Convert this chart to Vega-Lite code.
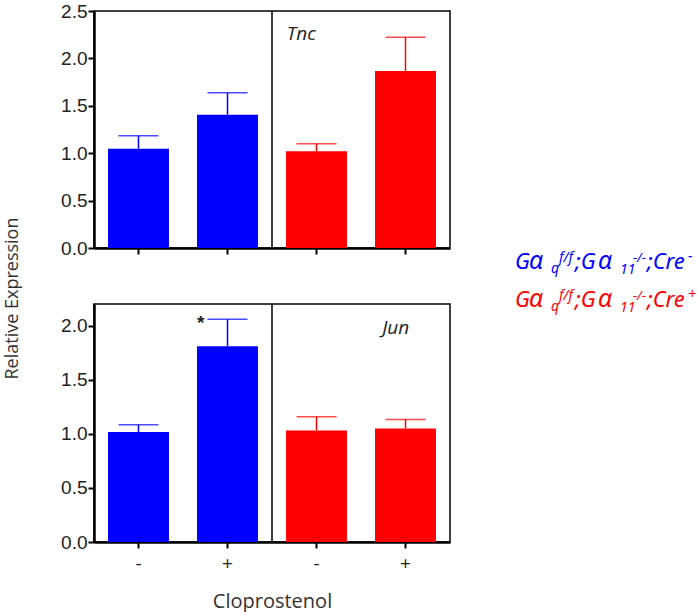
{
  "$schema": "https://vega.github.io/schema/vega-lite/v6.json",
  "padding": {"left": 2, "top": 1, "right": 0, "bottom": 0},
  "background": "white",
  "config": {
    "view": {"stroke": "black", "strokeWidth": 1.5},
    "axis": {"domainColor": "black", "domainWidth": 2.5, "tickColor": "black", "tickWidth": 2, "tickSize": 6, "grid": false, "labelFont": "Liberation Sans", "labelFontSize": 19, "labelColor": "#222", "titleFont": "Open Sans", "titleFontSize": 18, "titleFontWeight": "normal", "titleColor": "#333"}
  },
  "datasets": {
    "expr": [
      {"gene": "Tnc", "group": "WT-", "genotype": "Cre-", "mean": 1.047, "upper": 1.185},
      {"gene": "Tnc", "group": "WT+", "genotype": "Cre-", "mean": 1.406, "upper": 1.638},
      {"gene": "Tnc", "group": "KO-", "genotype": "Cre+", "mean": 1.02, "upper": 1.10},
      {"gene": "Tnc", "group": "KO+", "genotype": "Cre+", "mean": 1.867, "upper": 2.222},
      {"gene": "Jun", "group": "WT-", "genotype": "Cre-", "mean": 1.016, "upper": 1.083},
      {"gene": "Jun", "group": "WT+", "genotype": "Cre-", "mean": 1.809, "upper": 2.059},
      {"gene": "Jun", "group": "KO-", "genotype": "Cre+", "mean": 1.031, "upper": 1.157},
      {"gene": "Jun", "group": "KO+", "genotype": "Cre+", "mean": 1.049, "upper": 1.133}
    ],
    "divider": [{"boundary": "KO-"}],
    "legend": [
      {"genotype": "Cre-", "part": "m1", "txt": "G"},
      {"genotype": "Cre-", "part": "a1", "txt": "α"},
      {"genotype": "Cre-", "part": "b1", "txt": "q"},
      {"genotype": "Cre-", "part": "p1", "txt": "f/f"},
      {"genotype": "Cre-", "part": "m2", "txt": ";G"},
      {"genotype": "Cre-", "part": "a2", "txt": "α"},
      {"genotype": "Cre-", "part": "b2", "txt": "11"},
      {"genotype": "Cre-", "part": "p2", "txt": "-/-"},
      {"genotype": "Cre-", "part": "m3", "txt": ";Cre"},
      {"genotype": "Cre-", "part": "p3", "txt": "-"},
      {"genotype": "Cre+", "part": "m1", "txt": "G"},
      {"genotype": "Cre+", "part": "a1", "txt": "α"},
      {"genotype": "Cre+", "part": "b1", "txt": "q"},
      {"genotype": "Cre+", "part": "p1", "txt": "f/f"},
      {"genotype": "Cre+", "part": "m2", "txt": ";G"},
      {"genotype": "Cre+", "part": "a2", "txt": "α"},
      {"genotype": "Cre+", "part": "b2", "txt": "11"},
      {"genotype": "Cre+", "part": "p2", "txt": "-/-"},
      {"genotype": "Cre+", "part": "m3", "txt": ";Cre"},
      {"genotype": "Cre+", "part": "p3", "txt": "+"}
    ]
  },
  "spacing": 64,
  "hconcat": [
    {
      "spacing": 56,
      "bounds": "flush",
      "vconcat": [
        {
          "width": 356,
          "height": 237,
          "encoding": {
            "x": {"field": "group", "type": "nominal", "scale": {"domain": ["WT-", "WT+", "KO-", "KO+"], "paddingInner": 0, "paddingOuter": 0}, "axis": {"labels": false, "title": null}},
            "color": {"field": "genotype", "type": "nominal", "scale": {"domain": ["Cre-", "Cre+"], "range": ["#0000ff", "#ff0000"]}, "legend": null}
          },
          "layer": [
            {
              "data": {"name": "expr"},
              "transform": [{"filter": "datum.gene == 'Tnc'"}],
              "mark": {"type": "bar", "width": {"band": 0.685}},
              "encoding": {
                "y": {"field": "mean", "type": "quantitative", "scale": {"domain": [0, 2.5], "nice": false}, "axis": {"values": [0, 0.5, 1, 1.5, 2, 2.5], "format": ".1f", "title": null, "labelPadding": 1}}
              }
            },
            {
              "data": {"name": "expr"},
              "transform": [{"filter": "datum.gene == 'Tnc'"}],
              "mark": {"type": "rule", "strokeWidth": 1.5},
              "encoding": {"y": {"field": "mean", "type": "quantitative"}, "y2": {"field": "upper"}}
            },
            {
              "data": {"name": "expr"},
              "transform": [{"filter": "datum.gene == 'Tnc'"}],
              "mark": {"type": "tick", "size": 40, "thickness": 1.5},
              "encoding": {"y": {"field": "upper", "type": "quantitative"}}
            },
            {
              "data": {"name": "divider"},
              "mark": {"type": "rule", "color": "black", "strokeWidth": 1.5},
              "encoding": {"x": {"field": "boundary", "type": "nominal", "bandPosition": 0}, "color": {"value": "black"}}
            },
            {
              "data": {"values": [{"label": "Tnc"}]},
              "mark": {"type": "text", "font": "Open Sans", "fontStyle": "italic", "fontSize": 19, "align": "center", "baseline": "middle"},
              "encoding": {"x": {"datum": "KO-", "bandPosition": 0.33}, "y": {"datum": 2.26}, "text": {"field": "label"}, "color": {"value": "#222"}}
            }
          ]
        },
        {
          "width": 356,
          "height": 238,
          "encoding": {
            "x": {"field": "group", "type": "nominal", "scale": {"domain": ["WT-", "WT+", "KO-", "KO+"], "paddingInner": 0, "paddingOuter": 0}, "axis": {"labelExpr": "slice(datum.value, 2)", "labelFont": "Open Sans", "labelFontSize": 19, "labelPadding": 6, "labelAngle": 0, "title": "Cloprostenol", "titleFontSize": 20, "titlePadding": 18}},
            "color": {"field": "genotype", "type": "nominal", "scale": {"domain": ["Cre-", "Cre+"], "range": ["#0000ff", "#ff0000"]}, "legend": null}
          },
          "layer": [
            {
              "data": {"name": "expr"},
              "transform": [{"filter": "datum.gene == 'Jun'"}],
              "mark": {"type": "bar", "width": {"band": 0.685}},
              "encoding": {
                "y": {"field": "mean", "type": "quantitative", "scale": {"domain": [0, 2.2], "nice": false}, "axis": {"values": [0, 0.5, 1, 1.5, 2], "format": ".1f", "title": "Relative Expression", "titleX": -81.5, "titleY": -6, "titleBaseline": "middle", "titleAlign": "center", "labelPadding": 1}}
              }
            },
            {
              "data": {"name": "expr"},
              "transform": [{"filter": "datum.gene == 'Jun'"}],
              "mark": {"type": "rule", "strokeWidth": 1.5},
              "encoding": {"y": {"field": "mean", "type": "quantitative"}, "y2": {"field": "upper"}}
            },
            {
              "data": {"name": "expr"},
              "transform": [{"filter": "datum.gene == 'Jun'"}],
              "mark": {"type": "tick", "size": 40, "thickness": 1.5},
              "encoding": {"y": {"field": "upper", "type": "quantitative"}}
            },
            {
              "data": {"name": "divider"},
              "mark": {"type": "rule", "color": "black", "strokeWidth": 1.5},
              "encoding": {"x": {"field": "boundary", "type": "nominal", "bandPosition": 0}, "color": {"value": "black"}}
            },
            {
              "data": {"values": [{"label": "Jun"}]},
              "mark": {"type": "text", "font": "Open Sans", "fontStyle": "italic", "fontSize": 19, "align": "center", "baseline": "middle"},
              "encoding": {"x": {"datum": "KO+", "bandPosition": 0.39}, "y": {"datum": 1.98}, "text": {"field": "label"}, "color": {"value": "#222"}}
            },
            {
              "data": {"values": [{"label": "*"}]},
              "mark": {"type": "text", "font": "Liberation Sans", "fontSize": 19, "fontWeight": "bold", "align": "center", "baseline": "middle"},
              "encoding": {"x": {"datum": "WT+", "bandPosition": 0.2}, "y": {"datum": 2.02}, "text": {"field": "label"}, "color": {"value": "#222"}}
            }
          ]
        }
      ]
    },
    {
      "width": 180,
      "height": 570,
      "view": {"stroke": null},
      "data": {"name": "legend"},
      "encoding": {
        "x": {"datum": 0, "type": "quantitative", "scale": {"domain": [0, 1]}, "axis": null},
        "y": {"field": "genotype", "type": "nominal", "scale": {"type": "point", "domain": ["Cre-", "Cre+"], "range": [258, 296], "padding": 0}, "axis": null},
        "color": {"field": "genotype", "type": "nominal", "scale": {"domain": ["Cre-", "Cre+"], "range": ["#0000ff", "#ff0000"]}, "legend": null},
        "text": {"field": "txt"}
      },
      "layer": [
        {"transform": [{"filter": "datum.part == 'm1'"}], "mark": {"type": "text", "align": "left", "baseline": "alphabetic", "font": "Noto Sans", "fontStyle": "italic", "fontSize": 22, "dx": 0}},
        {"transform": [{"filter": "datum.part == 'a1'"}], "mark": {"type": "text", "align": "left", "baseline": "alphabetic", "font": "Noto Sans", "fontStyle": "italic", "fontSize": 25, "dx": 14}},
        {"transform": [{"filter": "datum.part == 'b1'"}], "mark": {"type": "text", "align": "left", "baseline": "alphabetic", "font": "Noto Sans", "fontStyle": "italic", "fontSize": 14, "dx": 36, "dy": 4}},
        {"transform": [{"filter": "datum.part == 'p1'"}], "mark": {"type": "text", "align": "left", "baseline": "alphabetic", "font": "Noto Sans", "fontStyle": "italic", "fontSize": 14, "dx": 44, "dy": -7}},
        {"transform": [{"filter": "datum.part == 'm2'"}], "mark": {"type": "text", "align": "left", "baseline": "alphabetic", "font": "Noto Sans", "fontStyle": "italic", "fontSize": 22, "dx": 60}},
        {"transform": [{"filter": "datum.part == 'a2'"}], "mark": {"type": "text", "align": "left", "baseline": "alphabetic", "font": "Noto Sans", "fontStyle": "italic", "fontSize": 25, "dx": 83}},
        {"transform": [{"filter": "datum.part == 'b2'"}], "mark": {"type": "text", "align": "left", "baseline": "alphabetic", "font": "Noto Sans", "fontStyle": "italic", "fontSize": 14, "dx": 105, "dy": 5}},
        {"transform": [{"filter": "datum.part == 'p2'"}], "mark": {"type": "text", "align": "left", "baseline": "alphabetic", "font": "Noto Sans", "fontStyle": "italic", "fontSize": 13, "dx": 118, "dy": -7}},
        {"transform": [{"filter": "datum.part == 'm3'"}], "mark": {"type": "text", "align": "left", "baseline": "alphabetic", "font": "Noto Sans", "fontStyle": "italic", "fontSize": 22, "dx": 132}},
        {"transform": [{"filter": "datum.part == 'p3'"}], "mark": {"type": "text", "align": "left", "baseline": "alphabetic", "font": "Noto Sans", "fontStyle": "italic", "fontSize": 14, "dx": 173, "dy": -8}}
      ]
    }
  ]
}
